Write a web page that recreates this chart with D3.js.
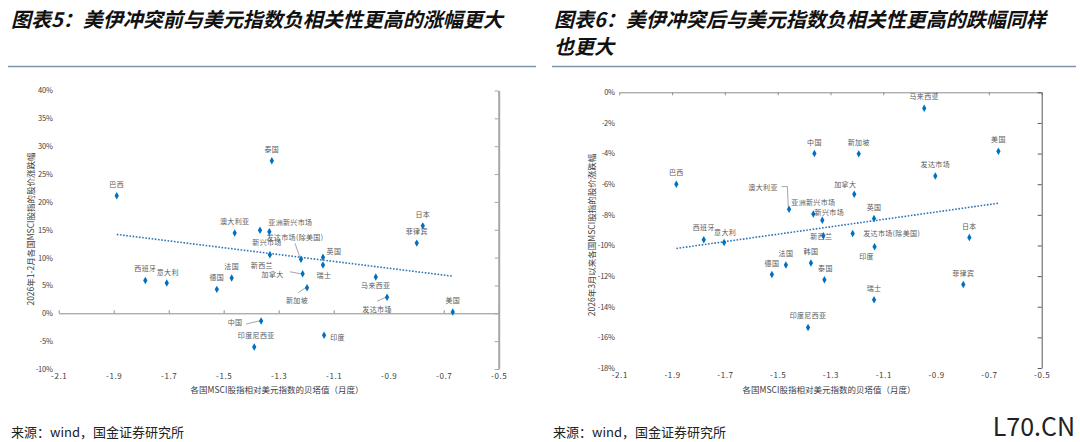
<!DOCTYPE html>
<html>
<head>
<meta charset="utf-8">
<script src="https://cdn.jsdelivr.net/npm/d3@7"></script>
<style>
  body { margin: 0; background: #fff; }
  svg { display: block; }
  text { font-family: "Noto Sans CJK SC", sans-serif; }
</style>
</head>
<body>
<script>
// 图表5: 冲突前 (2026年1-2月); 韩国 lies above the 40% axis max, so it only enters the trend line
let marketsPre = ['巴西', '澳大利亚', '泰国', '日本', '菲律宾', '亚洲新兴市场', '新兴市场', '发达市场(除美国)',
  '英国', '瑞士', '加拿大', '新加坡', '新西兰', '法国', '德国', '西班牙', '意大利', '中国', '印度尼西亚',
  '印度', '马来西亚', '发达市场', '美国', '韩国']
let betaPre = [-1.889, -1.46, -1.325, -0.776, -0.798, -1.334, -1.368, -1.219,
  -1.139, -1.139, -1.213, -1.197, -1.332, -1.471, -1.525, -1.785, -1.707, -1.364, -1.389,
  -1.135, -0.947, -0.906, -0.667, -1.374]
let retPre = [21.1, 14.4, 27.4, 15.7, 12.6, 14.65, 14.9, 9.7,
  10.05, 8.67, 7.1, 4.6, 10.5, 6.34, 4.3, 5.9, 5.44, -1.38, -6.05,
  -3.95, 6.5, 2.87, 0.23, 57]

// 图表6: 冲突后 (2026年3月以来)
let marketsPost = ['巴西', '澳大利亚', '中国', '亚洲新兴市场', '新兴市场', '新西兰', '西班牙', '意大利',
  '马来西亚', '新加坡', '美国', '发达市场', '加拿大', '英国', '发达市场(除美国)', '日本', '印度',
  '韩国', '泰国', '瑞士', '菲律宾', '印度尼西亚', '德国', '法国']
let betaPost = [-1.884, -1.457, -1.361, -1.365, -1.331, -1.327, -1.78, -1.703,
  -0.945, -1.193, -0.664, -0.903, -1.21, -1.135, -1.216, -0.774, -1.133,
  -1.374, -1.323, -1.135, -0.797, -1.385, -1.522, -1.469]
let retPost = [-6.0, -7.63, -4.0, -7.94, -8.35, -9.37, -9.63, -9.81,
  -1.04, -4.02, -3.85, -5.46, -6.65, -8.24, -9.22, -9.48, -10.09,
  -11.15, -12.24, -13.55, -12.55, -15.35, -11.9, -11.27]

let xTicks = [-2.1, -1.9, -1.7, -1.5, -1.3, -1.1, -0.9, -0.7, -0.5]
let yTicksPre = [-10, -5, 0, 5, 10, 15, 20, 25, 30, 35, 40]
let yTicksPost = [-18, -16, -14, -12, -10, -8, -6, -4, -2, 0]

// label placement (offset of label centre from its point), leader lines relative to point
let labelPre = {
  '巴西': [0, -12], '澳大利亚': [0, -12], '泰国': [0, -12], '日本': [0, -12], '菲律宾': [0, -12],
  '亚洲新兴市场': [21, -10], '新兴市场': [7, 12], '发达市场(除美国)': [-6, -22.6, [[-6, -16], [-1, -1.6]]],
  '英国': [11, -6], '瑞士': [1, 10], '加拿大': [-30, 0, [[-12.7, -2], [-2, 0]]],
  '新加坡': [-10, 12.5, [[-9, 5], [-2, 0.5]]], '新西兰': [-8, 10], '法国': [0, -12], '德国': [0, -12],
  '西班牙': [0, -12], '意大利': [1, -11], '中国': [-26, 1.5, [[-15, 3], [-2, 0]]], '印度尼西亚': [2, -12],
  '印度': [13.5, 2], '马来西亚': [0, 8], '发达市场': [-10, 12, [[-10, 4], [-1.5, 0]]], '美国': [0, -12],
  '韩国': [0, -12]
}
let labelPost = {
  '巴西': [0, -12], '澳大利亚': [-26, -22.6, [[-7.3, -22.6], [-1.7, -22.6], [-0.7, -2]]], '中国': [0, -12],
  '亚洲新兴市场': [0, -11.7], '新兴市场': [7, -8], '新西兰': [-2, 0], '西班牙': [0, -12.5], '意大利': [1, -11],
  '马来西亚': [0, -12], '新加坡': [0, -12], '美国': [0, -12], '发达市场': [0, -12], '加拿大': [-9, -10],
  '英国': [0, -12], '发达市场(除美国)': [39, -1], '日本': [0, -12], '印度': [-8, 9.5], '韩国': [0, -12],
  '泰国': [1, -12], '瑞士': [0, -12], '菲律宾': [0, -12], '印度尼西亚': [0, -12], '德国': [0, -12], '法国': [0, -12]
}

let width = 1080
let height = 442
let svg = d3.select('body').append('svg').attr('width', width).attr('height', height)

// titles
function title(x, lines) {
  let t = svg.append('text').attr('x', x).attr('y', 27)
    .attr('font-size', 20).attr('font-weight', 'bold').attr('font-style', 'italic').attr('fill', '#111')
  lines.forEach((l, i) => t.append('tspan').attr('x', x).attr('dy', i ? 27 : 0).text(l))
}
title(11, ['图表5：美伊冲突前与美元指数负相关性更高的涨幅更大'])
title(554, ['图表6：美伊冲突后与美元指数负相关性更高的跌幅同样', '也更大'])
svg.append('line').attr('x1', 8).attr('x2', 536).attr('y1', 66.5).attr('y2', 66.5)
  .attr('stroke', '#7f93ad').attr('stroke-width', 1.5)
svg.append('line').attr('x1', 552).attr('x2', 1076).attr('y1', 66.5).attr('y2', 66.5)
  .attr('stroke', '#7f93ad').attr('stroke-width', 1.5)

// sources
svg.append('text').attr('x', 11).attr('y', 437).attr('font-size', 13).attr('fill', '#222').text('来源：wind，国金证券研究所')
svg.append('text').attr('x', 553).attr('y', 437).attr('font-size', 13).attr('fill', '#222').text('来源：wind，国金证券研究所')
svg.append('text').attr('x', 1075).attr('y', 436).attr('text-anchor', 'end')
  .attr('font-family', 'Liberation Sans, Arial').attr('font-size', 25).attr('fill', '#222').text('L70.CN')

function drawChart(cfg) {
  let data = cfg.markets.map((m, i) => ({ name: m, beta: cfg.beta[i], ret: cfg.ret[i] / 100 }))
  let x = d3.scaleLinear().domain([-2.1, -0.5]).range(cfg.xRange)
  let y = d3.scaleLinear().domain(cfg.yDomain).range(cfg.yRange)
  // points beyond the value axis are not shown (as in the source chart) but still feed the trend line
  let shown = data.filter(d => d.ret >= cfg.yDomain[0] && d.ret <= cfg.yDomain[1])
  let g = svg.append('g')
  let fmtX = d => d.toFixed(1).replace('−', '-')

  // horizontal axis line at 0 with ticks
  let zeroAxis = g.append('g').attr('transform', `translate(0,${y(0)})`)
    .call((cfg.top ? d3.axisBottom(x) : d3.axisTop(x)).tickValues(xTicks).tickSize(3).tickSizeOuter(0).tickFormat(''))
  zeroAxis.selectAll('path,line').attr('stroke', '#8c8c8c')

  // x tick labels along bottom
  let xl = g.append('g').attr('transform', `translate(0,${cfg.yRange[0]})`)
    .call(d3.axisBottom(x).tickValues(xTicks).tickSize(0).tickPadding(4).tickFormat(fmtX))
  xl.select('.domain').remove()
  xl.selectAll('text').attr('font-family', 'Liberation Mono, DejaVu Sans Mono').attr('font-size', 8)
    .attr('fill', '#404040').attr('letter-spacing', 0.6)

  // right-hand axis line
  let ra = g.append('g').attr('transform', `translate(${cfg.xRange[1]},0)`)
    .call(d3.axisLeft(y).tickValues(cfg.yTicks.map(v => v / 100)).tickSize(4).tickSizeOuter(0).tickFormat(''))
  ra.selectAll('path,line').attr('stroke', cfg.rightColor)
  ra.select('.domain').attr('stroke-width', cfg.rightWidth)

  // y tick labels on left
  let yl = g.append('g').attr('transform', `translate(${cfg.xRange[0]},0)`)
    .call(d3.axisLeft(y).tickValues(cfg.yTicks.map(v => v / 100)).tickSize(0).tickPadding(cfg.yPad).tickFormat(d => Math.round(d * 100) + '%'))
  yl.select('.domain').remove()
  yl.selectAll('text').attr('font-family', 'Liberation Sans, Arial').attr('font-size', 7.5)
    .attr('fill', '#404040').attr('letter-spacing', -0.2)

  // axis titles
  g.append('text').attr('x', cfg.xTitle[0]).attr('y', cfg.xTitle[1]).attr('text-anchor', 'middle')
    .attr('font-size', 8.5).attr('fill', '#404040').text('各国MSCI股指相对美元指数的贝塔值（月度）')
  g.append('text').attr('transform', `translate(${cfg.yTitle[0]},${cfg.yTitle[1]}) rotate(-90)`)
    .attr('text-anchor', 'middle').attr('dominant-baseline', 'central')
    .attr('font-size', 8.5).attr('fill', '#404040').text(cfg.yLabel)

  // linear trend line (least squares over all markets), drawn across the shown points
  let mx = d3.mean(data, d => d.beta)
  let my = d3.mean(data, d => d.ret)
  let slope = d3.sum(data, d => (d.beta - mx) * (d.ret - my)) / d3.sum(data, d => (d.beta - mx) ** 2)
  let ext = d3.extent(shown, d => d.beta)
  g.append('line')
    .attr('x1', x(ext[0])).attr('y1', y(my + slope * (ext[0] - mx)))
    .attr('x2', x(ext[1])).attr('y2', y(my + slope * (ext[1] - mx)))
    .attr('stroke', '#2e75b6').attr('stroke-width', 1.6).attr('stroke-dasharray', '1.6 1.6')

  // leader lines
  shown.forEach(d => {
    let lab = cfg.labels[d.name]
    if (lab && lab[2]) {
      g.append('path')
        .attr('d', d3.line()(lab[2].map(p => [x(d.beta) + p[0], y(d.ret) + p[1]])))
        .attr('fill', 'none').attr('stroke', '#7f7f7f').attr('stroke-width', 0.7)
    }
  })

  // points
  g.selectAll('path.pt').data(shown).enter().append('path').attr('class', 'pt')
    .attr('d', d3.symbol(d3.symbolDiamond, 16))
    .attr('transform', d => `translate(${x(d.beta)},${y(d.ret)})`)
    .attr('fill', '#0070c0')

  // labels
  g.selectAll('text.lab').data(shown).enter().append('text').attr('class', 'lab')
    .attr('x', d => x(d.beta) + cfg.labels[d.name][0])
    .attr('y', d => y(d.ret) + cfg.labels[d.name][1])
    .attr('text-anchor', 'middle').attr('dominant-baseline', 'central')
    .attr('font-size', 7).attr('letter-spacing', 0.35).attr('fill', '#595959')
    .text(d => d.name)
}

drawChart({
  markets: marketsPre, beta: betaPre, ret: retPre, labels: labelPre,
  xRange: [58.7, 498.7], yDomain: [-0.10, 0.40], yRange: [369, 90.5], yTicks: yTicksPre,
  top: false, rightColor: '#a6a6a6', rightWidth: 2, yPad: 6,
  xTitle: [277, 393], yTitle: [30, 229], yLabel: '2026年1-2月各国MSCI股指的股价涨跌幅'
})
drawChart({
  markets: marketsPost, beta: betaPost, ret: retPost, labels: labelPost,
  xRange: [619.3, 1041.7], yDomain: [-0.18, 0], yRange: [368, 92.3], yTicks: yTicksPost,
  top: true, rightColor: '#595959', rightWidth: 1, yPad: 4.5,
  xTitle: [829, 393], yTitle: [591, 235], yLabel: '2026年3月以来各国MSCI股指的股价涨跌幅'
})
</script>
</body>
</html>
